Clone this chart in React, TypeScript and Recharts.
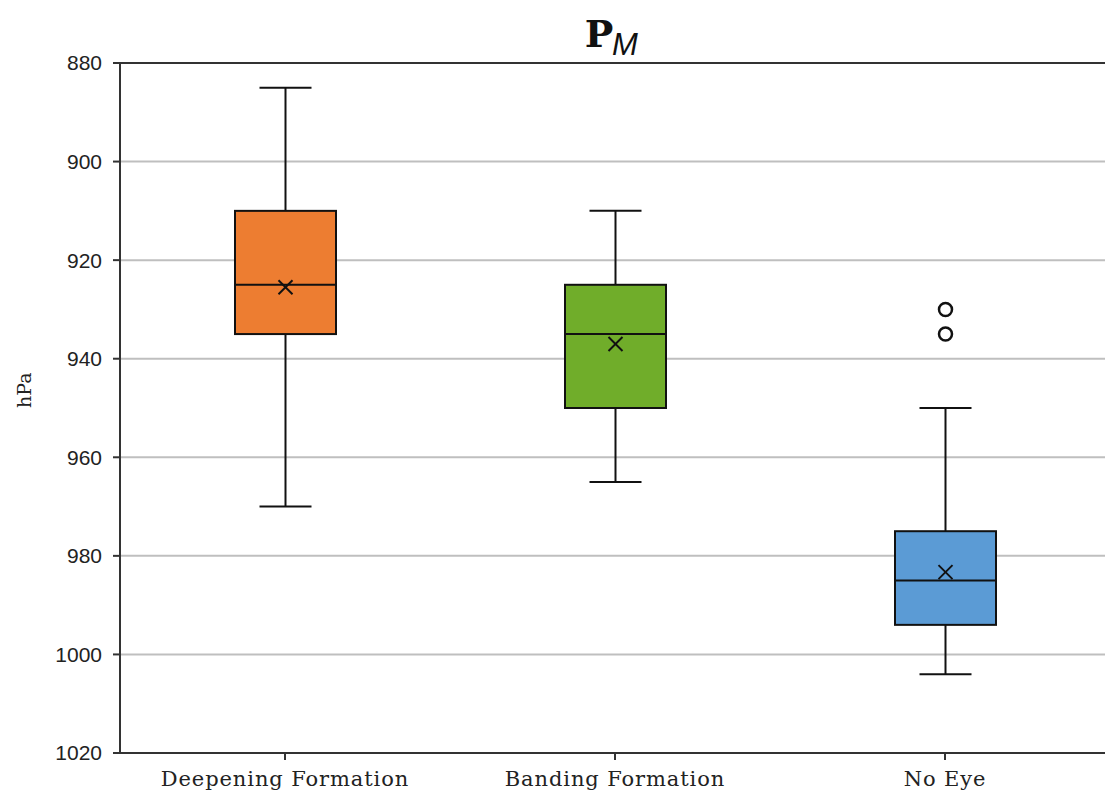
import { ComposedChart, Bar, XAxis, YAxis, CartesianGrid, ReferenceArea } from 'recharts';

const categories = ['Deepening Formation', 'Banding Formation', 'No Eye'];
const whiskerLow = [885, 910, 950];
const q1 = [910, 925, 975];
const median = [925, 935, 985];
const q3 = [935, 950, 994];
const whiskerHigh = [970, 965, 1004];
const means = [925.5, 937, 983.3];
const outliers: number[][] = [[], [], [930, 935]];
const colors = ['#ED7D31', '#70AD2A', '#5B9BD5'];
const yTicks = [880, 900, 920, 940, 960, 980, 1000, 1020];

const data = categories.map((name, i) => ({
  name,
  range: [whiskerLow[i], whiskerHigh[i]],
  lo: whiskerLow[i],
  hi: whiskerHigh[i],
  q1: q1[i],
  med: median[i],
  q3: q3[i],
  mean: means[i],
  out: outliers[i],
  color: colors[i],
}));

// eslint-disable-next-line @typescript-eslint/no-explicit-any
function BoxShape(props: any) {
  const { x, y, width, height, payload } = props;
  const top = Math.min(y, y + height);
  const bottom = Math.max(y, y + height);
  const py = (v: number) => top + ((v - payload.lo) / (payload.hi - payload.lo)) * (bottom - top);
  const cx = x + width / 2;
  const cap = 26;
  const m = 7;
  const my = py(payload.mean);
  return (
    <g stroke="#111" strokeWidth={2} fill="none">
      <line x1={cx} x2={cx} y1={py(payload.lo)} y2={py(payload.q1)} />
      <line x1={cx} x2={cx} y1={py(payload.q3)} y2={py(payload.hi)} />
      <line x1={cx - cap} x2={cx + cap} y1={py(payload.lo)} y2={py(payload.lo)} />
      <line x1={cx - cap} x2={cx + cap} y1={py(payload.hi)} y2={py(payload.hi)} />
      <rect x={x} y={py(payload.q1)} width={width} height={py(payload.q3) - py(payload.q1)} fill={payload.color} />
      <line x1={x} x2={x + width} y1={py(payload.med)} y2={py(payload.med)} />
      <line x1={cx - m} x2={cx + m} y1={my - m} y2={my + m} />
      <line x1={cx - m} x2={cx + m} y1={my + m} y2={my - m} />
      {payload.out.map((v: number, k: number) => (
        <circle key={k} cx={cx} cy={py(v)} r={6.5} fill="#fff" strokeWidth={2.5} />
      ))}
    </g>
  );
}

export default function App() {
  return (
    <div style={{ position: 'absolute', left: 0, top: 0, width: 1105, height: 796, background: '#fff', overflow: 'hidden' }}>
      <ComposedChart width={1116} height={796} data={data} margin={{ top: 63, right: 6, left: 0, bottom: 0 }}>
        <CartesianGrid vertical={false} stroke="#bfbfbf" strokeWidth={2} />
        <XAxis
          dataKey="name"
          height={43}
          tickSize={7}
          tickMargin={11}
          stroke="#333"
          strokeWidth={2}
          tick={{ fontFamily: 'DejaVu Serif', fontSize: 21, letterSpacing: 0.9, fill: '#222' }}
        />
        <YAxis
          width={120}
          domain={[880, 1020]}
          reversed
          ticks={yTicks}
          allowDataOverflow
          tickSize={7}
          tickMargin={11}
          stroke="#333"
          strokeWidth={2}
          tick={{ fontFamily: 'Liberation Sans', fontSize: 21, fill: '#222' }}
          label={{ value: 'hPa', angle: -90, position: 'insideLeft', offset: 24, style: { fontFamily: 'DejaVu Serif', fontSize: 19, fill: '#222' } }}
        />
        <Bar dataKey="range" barSize={101} shape={BoxShape} isAnimationActive={false} />
        <ReferenceArea y1={880} y2={1020} fill="none" stroke="#333" strokeWidth={2} ifOverflow="visible" />
      </ComposedChart>
      <svg width={1105} height={70} style={{ position: 'absolute', left: 0, top: 0 }}>
        <text x={599} y={47} textAnchor="middle" fontFamily="DejaVu Serif" fontWeight={600} fontSize={38} fill="#111">
          P
        </text>
        <text x={612} y={55} fontFamily="Liberation Sans" fontStyle="italic" fontSize={31} fill="#111">
          M
        </text>
      </svg>
    </div>
  );
}
